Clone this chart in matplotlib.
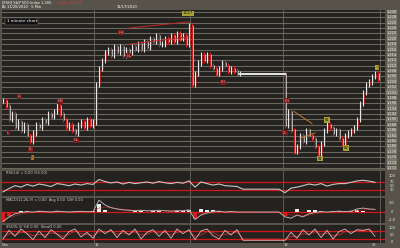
import numpy as np
import matplotlib
matplotlib.use("Agg")
import matplotlib.pyplot as plt

# ---------------- data ----------------
closes = [
    # day 1 (idx 0-30)
    1197, 1195, 1190, 1192, 1187, 1189, 1186, 1188, 1184, 1182, 1185, 1188, 1187, 1190, 1189, 1192,
    1191, 1193, 1195, 1192, 1190, 1187, 1188, 1186, 1185, 1188, 1189, 1187, 1190, 1188, 1189,
    # day 2 (idx 31-62)
    1203, 1209, 1212, 1215, 1216, 1214, 1217, 1215, 1217, 1214, 1216, 1215, 1217, 1216, 1218, 1216,
    1219, 1217, 1220, 1219, 1221, 1218, 1218, 1220, 1219, 1221, 1219, 1222, 1220, 1221, 1218, 1225,
    # day 3 (idx 63-79)
    1203, 1207, 1211, 1214, 1212, 1214, 1210, 1209, 1207, 1209, 1211, 1210, 1208, 1209, 1208, 1207, 1207,
    # no data (idx 80-93)
    None, None, None, None, None, None, None, None, None, None, None, None, None, None,
    # day 4 (idx 94-125)
    1188, 1193, 1186, 1178, 1180, 1184, 1182, 1186, 1184, 1183, 1180, 1177, 1181, 1186, 1188, 1187,
    1185, 1186, 1183, 1181, 1184, 1185, 1186, 1187, 1190, 1196, 1200, 1203, 1204, 1206, 1207, 1205,
]
day_starts = [31, 63, 94]
price_ticks = list(range(1172, 1231, 2))

channel_upper = [(42, 1224.0), (62, 1226.3)]
channel_lower = [(42, 1218.0), (62, 1220.7)]
tri_upper = [(97, 1193.0), (103, 1188.5)]
tri_lower = [(99, 1183.0), (104, 1185.0)]

rsi = [22, 38, 52, 45, 58, 50, 60, 55, 48, 62, 58, 52, 60, 55, 62, 58,
       82, 72, 65, 70, 60, 68, 62, 66, 70, 64, 72, 66, 62, 68, 64, 75,
       45, 70, 62, 55, 60, 52, 50, 48,
       35, 35, 35, 35, 35, 35, 35,
       18, 40, 45, 52, 60, 55, 62, 50, 58, 62, 62, 68, 75, 78, 74, 68]
macd = [-2.3, -1.2, -0.5, -0.2, 0.0, -0.1, 0.1, 0.0, -0.1, 0.1, 0.0, -0.1, 0.0, 0.05, 0.0, 0.0,
        2.6, 1.5, 0.9, 0.6, 0.4, 0.3, 0.2, 0.3, 0.2, 0.2, 0.3, 0.2, 0.1, 0.2, 0.2, 0.4,
        -1.8, -0.8, -0.3, 0.0, 0.1, -0.1, 0.0, -0.1,
        -0.1, -0.1, -0.1, -0.1, -0.1, -0.1, -0.1,
        -1.2, -1.5, -0.8, -1.2, -0.5, -0.2, 0.0, -0.1, 0.0, 0.1, 0.0, 0.1, 0.6, 0.8, 0.6, 0.5]
macd_signal = [-1.5, -1.4, -1.0, -0.6, -0.3, -0.2, 0.0, 0.0, 0.0, 0.0, 0.0, 0.0, 0.0, 0.0, 0.0, 0.0,
               0.8, 1.0, 0.9, 0.7, 0.5, 0.4, 0.3, 0.3, 0.2, 0.2, 0.2, 0.2, 0.2, 0.2, 0.2, 0.3,
               -0.3, -0.6, -0.5, -0.3, -0.1, -0.1, 0.0, 0.0,
               -0.1, -0.1, -0.1, -0.1, -0.1, -0.1, -0.1,
               -0.4, -0.8, -0.8, -0.9, -0.8, -0.5, -0.3, -0.2, -0.1, 0.0, 0.0, 0.0, 0.2, 0.4, 0.5, 0.5]
macd_hist = [-2.4, -1.0, -0.3, 0.2, 0.2, -0.1, 0.2, -0.1, -0.2, 0.2, -0.1, -0.2, 0.1, 0.2, -0.1, 0.1,
             1.8, 0.4, -0.2, -0.2, -0.1, -0.1, 0.1, 0.1, -0.1, 0.1, 0.1, -0.1, -0.1, 0.1, 0.1, 0.3,
             -1.6, 0.5, 0.4, 0.3, 0.1, -0.1, 0.1, -0.1,
             0, 0, 0, 0, 0, 0, 0,
             -1.0, -0.3, 0.5, -0.3, 0.4, 0.3, 0.2, -0.1, 0.1, 0.1, -0.1, 0.1, 0.4, 0.2, -0.1, -0.1]
stoch_k = [20, 85, 40, 95, 60, 15, 80, 30, 90, 55, 20, 75, 95, 35, 70, 25,
           95, 60, 90, 30, 85, 50, 95, 20, 70, 90, 40, 85, 25, 95, 60, 90,
           15, 80, 95, 45, 20, 85, 50, 90,
           10, 10, 10, 10, 10, 10, 10,
           10, 70, 25, 90, 50, 95, 30, 85, 20, 75, 95, 60, 90, 85, 95, 40]
stoch_d = [30, 60, 55, 70, 65, 45, 55, 50, 65, 60, 40, 55, 80, 60, 55, 45,
           75, 75, 80, 55, 65, 60, 75, 50, 55, 75, 65, 70, 50, 70, 75, 80,
           40, 50, 75, 70, 45, 55, 60, 75,
           20, 20, 20, 20, 20, 20, 20,
           15, 40, 40, 60, 55, 75, 55, 65, 45, 50, 75, 75, 80, 85, 90, 70]

date_labels = ["Nov", "16", "19", "22"]
date_pos = [-0.3, 30.7, 93.7, 123]

red_labels = [(5.3, 1198.5, "H"), (1.7, 1185.0, "L"), (9.3, 1179.0, "LL"), (19, 1196.7, "HH"),
              (24.3, 1182.2, "HL"), (39.3, 1222.2, "HH"), (42, 1213.7, "HL"), (73.3, 1203.8, "LH"),
              (94.7, 1197.0, "LH"), (94, 1185.0, "LL")]
olive_labels = [(9.7, 1176.0, "L", "#b07020"), (103.7, 1190.0, "", "#b07020"),
                (108, 1189.8, "B1", "#a8a030"), (114.3, 1179.4, "B2", "#a8a030"),
                (105.7, 1175.5, "B1", "#a8a030"), (124.7, 1209.2, "T", "#a8a030")]

# ---------------- style ----------------
W, H = 400, 248
BG = "#57534a"
PANEL = "#24221f"
GRID = "#6a675f"
fig = plt.figure(figsize=(4, 2.48), dpi=100, facecolor=BG)

def ax_px(x0, y0, x1, y1):
    a = fig.add_axes([x0 / W, 1 - y1 / H, (x1 - x0) / W, (y1 - y0) / H])
    a.set_facecolor(PANEL)
    for s in a.spines.values():
        s.set_visible(False)
    a.set_xticks([]); a.set_yticks([])
    return a

XL = (-1 / 3, (385 - 3) / 3)

def seps(a):
    for d in day_starts:
        a.axvline(d - 0.6, color="#6a675f", lw=0.6, zorder=1)
    a.axvline((380 - 3) / 3, color="#6a675f", lw=0.6, zorder=1)

# right label column
col = fig.add_axes([385 / W, 0, 15 / W, 1 - 10 / H])
col.set_facecolor("#625e53"); col.axis("off")
col.patch.set_visible(True)

# ---------------- main panel ----------------
ax = ax_px(2, 10, 385, 169)
ax.set_xlim(*XL)
ax.set_ylim(1171.6, 1230.7)
for p in price_ticks:
    ax.axhline(p, color=GRID, lw=0.8, zorder=1)
seps(ax)

prev = None
for i, c in enumerate(closes):
    if c is None:
        continue
    o = prev if prev is not None else c
    col_ = "#e6e6e6" if c >= o else "#d42020"
    ax.vlines(i, min(o, c) - 1.0, max(o, c) + 1.0, color=col_, lw=0.8, zorder=3)
    ax.vlines(i + 0.45, min(o, c) - 0.3, max(o, c) + 0.3, color="#c82020" if c >= o else "#e6e6e6",
              lw=0.5, zorder=3)
    prev = c
# flat no-data line
last_i = max(i for i in range(80) if closes[i] is not None)
ax.plot([last_i, day_starts[2]], [closes[last_i], closes[last_i]], color="#e8e8e8", lw=1.4, zorder=3)

for seg, colr in ((channel_upper, "#c02828"), (channel_lower, "#c02828"),
                  (tri_upper, "#c07830"), (tri_lower, "#c07830")):
    ax.plot([seg[0][0], seg[1][0]], [seg[0][1], seg[1][1]], color=colr, lw=0.7, zorder=4)

for x, y, t in red_labels:
    ax.text(x, y, t, fontsize=2.6, color="#e0a0a0", ha="center", va="center", zorder=5,
            bbox=dict(boxstyle="square,pad=0.15", fc="#7a1a1a", ec="none"))
for x, y, t, cc in olive_labels:
    ax.text(x, y, t, fontsize=2.6, color="#202010", ha="center", va="center", zorder=5,
            bbox=dict(boxstyle="square,pad=0.15", fc=cc, ec="none"))
ax.text(61.7, 1229.5, "1227", fontsize=3, color="#202010", ha="center", va="center", zorder=6,
        bbox=dict(boxstyle="square,pad=0.15", fc="#a8a030", ec="none"))
ax.text(1.2, 1226.5, "1 minute chart", fontsize=3, color="white", ha="left", va="center",
        bbox=dict(boxstyle="square,pad=0.3", fc="#111111", ec="#777777", lw=0.3))

for p in price_ticks:
    yfig = (p - 1171.6) / (1230.7 - 1171.6) * (159 / H) + (1 - 169 / H)
    fig.text(392 / W, yfig, f"1,{p - 1000:03d}", fontsize=2.6, color="#e8e8e8",
             ha="center", va="center",
             bbox=dict(boxstyle="square,pad=0.1", fc="#7a766a", ec="none"))

# header
fig.text(2 / W, 1 - 2.5 / H, "[ESH] S&P 500 Index 1,205", fontsize=2.6, color="white",
         ha="left", va="center")
fig.text(58 / W, 1 - 2.5 / H, "-3.25  -0.27%", fontsize=2.6, color="#ff3030", ha="left", va="center")
fig.text(2 / W, 1 - 7 / H, "At 11/20/2010   5 Min", fontsize=2.6, color="white", ha="left", va="center")
fig.text(117 / W, 1 - 7 / H, "11/17/2010", fontsize=2.6, color="white", ha="left", va="center")

j_idx = [2 * j for j in range(len(rsi))]

# ---------------- RSI ----------------
a1 = ax_px(2, 171, 385, 196)
a1.set_xlim(*XL); a1.set_ylim(2, 123)
seps(a1)
for lv in (70, 30):
    a1.axhline(lv, color="#d01818", lw=0.9)
a1.plot(j_idx, rsi, color="#c8c8c8", lw=0.8)
a1.text(1, 112, "RSI(14) = 0.00 (55.00)", fontsize=2.6, color="#cfcfcf", va="center")
for v in (100, 70, 50, 30):
    yfig = (v - 2) / 121 * (25 / H) + (1 - 196 / H)
    fig.text(392 / W, yfig, str(v), fontsize=2.6, color="#e8e8e8", ha="center", va="center")

# ---------------- MACD ----------------
a2 = ax_px(2, 198, 385, 223)
a2.set_xlim(*XL); a2.set_ylim(-2.6, 3.1)
seps(a2)
a2.axhline(0, color="#d01818", lw=0.9)
hc = ["#f0f0f0" if v >= 0 else "#e01818" for v in macd_hist]
a2.bar(j_idx, macd_hist, width=1.6, color=hc, zorder=3)
a2.plot(j_idx, macd_signal, color="#d02020", lw=0.6, ls=(0, (1.5, 1)), zorder=4)
a2.plot(j_idx, macd, color="#b0b0b0", lw=0.7, zorder=4)
a2.text(1, 2.6, "MACD(12,26,9) = 0.00  Avg 0.00  Diff 0.00", fontsize=2.6, color="#cfcfcf", va="center")
for v, t in ((2.0, "2.0"), (0, "0"), (-2.0, "-2.0")):
    yfig = (v + 2.6) / 5.7 * (25 / H) + (1 - 223 / H)
    fig.text(392 / W, yfig, t, fontsize=2.6, color="#e8e8e8", ha="center", va="center")

# ---------------- Stochastic ----------------
a3 = ax_px(2, 225, 385, 243)
a3.set_xlim(*XL); a3.set_ylim(-10, 125)
seps(a3)
for lv in (80, 20):
    a3.axhline(lv, color="#d01818", lw=0.9)
a3.plot(j_idx, stoch_d, color="#c03030", lw=0.6)
a3.plot(j_idx, stoch_k, color="#e8b0b0", lw=0.6)
a3.text(1, 113, "SSO(5,3) %K 0.00  SlowD 0.00", fontsize=2.6, color="#cfcfcf", va="center")
for v in (100, 50, 0):
    yfig = (v + 10) / 135 * (18 / H) + (1 - 243 / H)
    fig.text(392 / W, yfig, str(v), fontsize=2.6, color="#e8e8e8", ha="center", va="center")

for t, p in zip(date_labels, date_pos):
    xf = (2 + (p - XL[0]) * 3) / W
    fig.text(xf, 1 - 245.5 / H, t, fontsize=2.6, color="#dddddd", ha="left", va="center")

fig.savefig("out.png", dpi=100, facecolor=BG)
